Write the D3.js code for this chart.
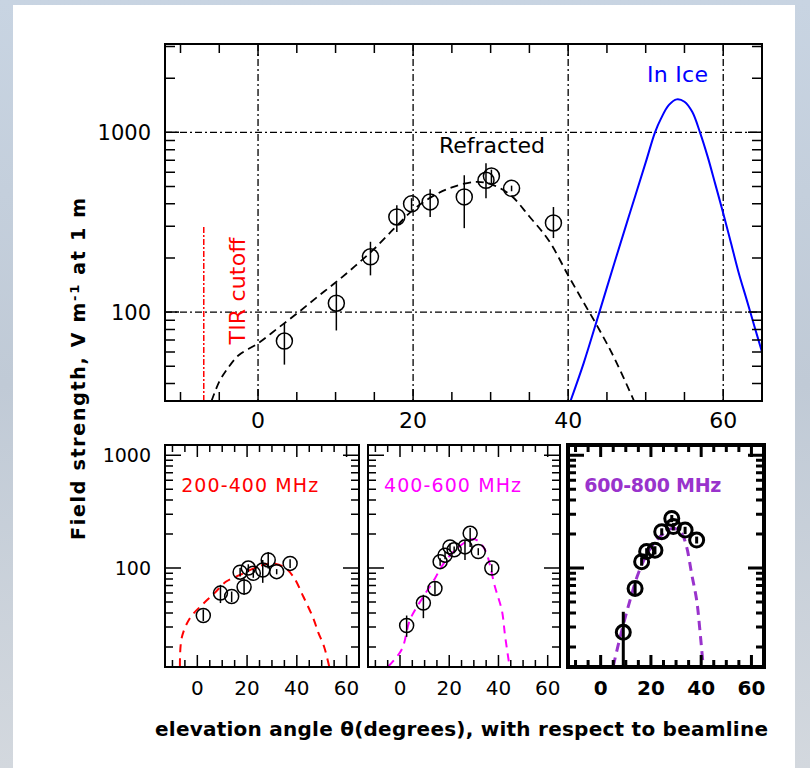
<!DOCTYPE html>
<html>
<head>
<meta charset="utf-8">
<script src="https://cdn.jsdelivr.net/npm/d3@7"></script>
<style>
  body { margin: 0; background: #fff; }
  svg { display: block; font-family: 'DejaVu Sans', sans-serif; }
</style>
</head>
<body>
<svg id="chart" width="810" height="768"></svg>
<script>
// main panel: [angle, field] pairs
const refractedCurve = [[-6, 32], [-5, 41], [-4, 48], [-2.5, 57.5], [0, 67], [2.5, 81], [5, 98], [7.5, 120],
  [10, 146], [12.5, 180], [15, 225], [17.5, 290], [20, 370], [22.5, 440], [25, 494], [28, 530], [30, 515],
  [32.5, 450], [35, 340], [37.5, 250], [40, 160], [42, 113], [44, 80], [46, 55], [48.5, 32]]
// [angle, field, low, high]
const refractedPoints = [[3.4, 69, 51, 87], [10.1, 112, 79, 145], [14.5, 203, 160, 246], [17.9, 338, 279, 393],
  [19.8, 400, 370, 430], [22.2, 410, 338, 482], [26.6, 437, 293, 577], [29.4, 541, 430, 672],
  [30.1, 571, 520, 620], [32.7, 488, 470, 505], [38.1, 313, 258, 384]]
const iceCurve = [[40.3, 32], [42, 52], [44, 99], [46, 190], [48, 360], [50, 680], [51.2, 1000], [52, 1200],
  [53, 1420], [54, 1525], [55, 1480], [56, 1300], [57, 1000], [58, 730], [59, 510], [60, 355], [61, 242],
  [62, 165], [63, 118], [64, 84], [65, 60]]
const tirAngle = -7
const tirRange = [32, 300]
const mainXLabels = [0, 20, 40, 60]
const mainYLabels = [100, 1000]

// frequency bands (bottom panels)
const bands = ['200-400 MHz', '400-600 MHz', '600-800 MHz']
const bandColors = ['#ff0000', '#ff00ff', '#9933cc']
const bandCurves = [
  [[-7, 13.5], [-6.3, 24], [-3, 36], [1.8, 47], [6.9, 60], [11.6, 76], [17.2, 87], [22.5, 99], [29.2, 110],
    [34.6, 103], [38.6, 84], [42.6, 56], [46.6, 36], [48.6, 27], [51, 20], [53, 13.5]],
  [[-4.7, 13.5], [0.7, 19], [4.1, 35], [9.5, 56], [14.2, 81], [16.9, 103], [21, 135], [25.7, 165], [29, 180],
    [31.2, 177], [34.6, 144], [38.6, 68], [41.4, 42], [42.7, 25], [44.5, 13.5]],
  [[5, 13.5], [8.4, 28], [11.7, 52], [15, 90], [19, 140], [23.6, 190], [28.9, 225], [32.2, 203], [34.2, 154],
    [36.2, 89], [38.2, 52], [39.5, 28], [40.8, 13.5]]
]
const bandPoints = [
  [[2.4, 38, 34, 43], [9.3, 60, 49, 71], [13.8, 56, 50, 62], [17.2, 92, 84, 100], [18.8, 68, 58, 81],
    [20.5, 100, 92, 108], [22.5, 90, 82, 98], [26.3, 96, 74, 118], [28.5, 118, 99, 139], [31.9, 93, 88, 98],
    [37.3, 110, 100, 120]],
  [[2.7, 31, 24.6, 38], [9.5, 49, 36, 58], [14.2, 66, 58, 76], [16.3, 114, 105, 122], [18.3, 130, 120, 140],
    [20.3, 154, 140, 165], [22, 145, 135, 155], [26.4, 154, 118, 177], [28.5, 203, 154, 226],
    [31.8, 140, 130, 150], [37.3, 100, 92, 108]],
  [[9.0, 27, 13.5, 41], [13.7, 66, 57, 76], [16.3, 114, 105, 124], [18.3, 140, 128, 150], [21.6, 144, 132, 156],
    [24.3, 210, 195, 225], [28.3, 275, 255, 295], [28.9, 233, 215, 250], [33.6, 217, 200, 232],
    [38.2, 177, 165, 190]]
]
const smallXLabels = [0, 20, 40, 60]
const smallYLabels = [100, 1000]

const svg = d3.select('#chart')
const defs = svg.append('defs')

// backdrop: greyish sky strip behind a white sheet
const grad = defs.append('linearGradient').attr('id', 'sky').attr('x1', 0).attr('y1', 0).attr('x2', 0).attr('y2', 1)
grad.append('stop').attr('offset', 0).attr('stop-color', '#c8d4e2')
grad.append('stop').attr('offset', 0.5).attr('stop-color', '#c0cad6')
grad.append('stop').attr('offset', 1).attr('stop-color', '#d3d8de')
svg.append('rect').attr('width', 810).attr('height', 768).attr('fill', 'url(#sky)')
svg.append('rect').attr('x', 13).attr('y', 5).attr('width', 782).attr('height', 763).attr('fill', '#fff')

function logTicks(lo, hi) {
  const out = []
  for (let d = 1; d <= 1000; d *= 10) {
    for (let m = 1; m < 10; m++) {
      const v = m * d
      if (v >= lo && v <= hi) out.push(v)
    }
  }
  return out
}

function drawTicks(g, x, y, opt) {
  const [x0, x1] = x.range()
  const [y1, y0] = y.range()
  const xt = d3.range(-10, 66, 5)
  const yt = logTicks(y.domain()[0], y.domain()[1])
  const isMajX = v => v % 20 === 0
  const isMajY = v => v === 100 || v === 1000
  const t = g.append('g').attr('stroke', '#000').attr('stroke-width', opt.width)
  t.selectAll('.xt').data(xt).enter().append('path')
    .attr('d', v => {
      const len = isMajX(v) ? opt.majX : opt.minX
      const px = x(v)
      return `M${px},${y0}v${len}M${px},${y1}v${-len}`
    })
  t.selectAll('.yt').data(yt).enter().append('path')
    .attr('d', v => {
      const len = isMajY(v) ? opt.majY : opt.minY
      const py = y(v)
      return `M${x0},${py}h${len}M${x1},${py}h${-len}`
    })
  g.append('rect')
    .attr('x', x0).attr('y', y0)
    .attr('width', x1 - x0).attr('height', y1 - y0)
    .attr('fill', 'none').attr('stroke', '#000').attr('stroke-width', opt.frame)
}

function drawPoints(g, x, y, pts, r, sw) {
  const p = g.append('g').attr('stroke', '#000').attr('fill', 'none').attr('stroke-width', sw)
  p.selectAll('line').data(pts).enter().append('line')
    .attr('x1', d => x(d[0])).attr('x2', d => x(d[0]))
    .attr('y1', d => y(d[2])).attr('y2', d => y(d[3]))
  p.selectAll('circle').data(pts).enter().append('circle')
    .attr('cx', d => x(d[0])).attr('cy', d => y(d[1])).attr('r', r)
}

// ---------- main panel ----------
const mainX = d3.scaleLinear().domain([-12, 65]).range([165, 762])
const mainY = d3.scaleLog().domain([32, 3100]).range([401, 44])
const main = svg.append('g')

defs.append('clipPath').attr('id', 'clip-main').append('rect')
  .attr('x', 165).attr('y', 44).attr('width', 597).attr('height', 357)

const grid = main.append('g').attr('stroke', '#000').attr('stroke-width', 1.3).attr('stroke-dasharray', '7,3,2,3')
grid.selectAll('.gx').data(mainXLabels).enter().append('line')
  .attr('x1', d => mainX(d)).attr('x2', d => mainX(d)).attr('y1', 44).attr('y2', 401)
grid.selectAll('.gy').data(mainYLabels).enter().append('line')
  .attr('y1', d => mainY(d)).attr('y2', d => mainY(d)).attr('x1', 165).attr('x2', 762)

main.append('line')
  .attr('x1', mainX(tirAngle)).attr('x2', mainX(tirAngle))
  .attr('y1', mainY(tirRange[0])).attr('y2', mainY(tirRange[1]))
  .attr('stroke', '#ff0000').attr('stroke-width', 1.5).attr('stroke-dasharray', '6,2,2,2')

const mainLine = d3.line().x(d => mainX(d[0])).y(d => mainY(d[1])).curve(d3.curveCatmullRom.alpha(0.5))
const curves = main.append('g').attr('clip-path', 'url(#clip-main)').attr('fill', 'none')
curves.append('path').datum(refractedCurve).attr('d', mainLine)
  .attr('stroke', '#000').attr('stroke-width', 1.8).attr('stroke-dasharray', '8,5')
curves.append('path').datum(iceCurve).attr('d', mainLine)
  .attr('stroke', '#0000ff').attr('stroke-width', 2)

drawPoints(main, mainX, mainY, refractedPoints, 8, 1.5)
drawTicks(main, mainX, mainY, { width: 1.5, frame: 2, minX: 9, majX: 12, minY: 10, majY: 14 })

main.selectAll('.xl').data(mainXLabels).enter().append('text')
  .attr('x', d => mainX(d)).attr('y', 428).attr('text-anchor', 'middle')
  .attr('font-size', 22).text(d => d)
main.selectAll('.yl').data(mainYLabels).enter().append('text')
  .attr('x', 151).attr('y', d => mainY(d) + 8).attr('text-anchor', 'end')
  .attr('font-size', 21).text(d => d)

main.append('text').attr('x', 439).attr('y', 153).attr('font-size', 22)
  .attr('textLength', 106).text('Refracted')
main.append('text').attr('x', 647).attr('y', 82).attr('font-size', 22).attr('fill', '#0000ff')
  .attr('textLength', 61).text('In Ice')
main.append('text').attr('transform', 'translate(245,291) rotate(-90)').attr('text-anchor', 'middle')
  .attr('font-size', 22).attr('fill', '#ff0000').attr('textLength', 107).text('TIR cutoff')

// ---------- band panels ----------
const panelRanges = [[165, 359], [368, 560], [568, 764]]
const smallY = d3.scaleLog().domain([13.3, 1230]).range([667, 445])

bands.forEach((band, i) => {
  const x = d3.scaleLinear().domain([-13, 65]).range(panelRanges[i])
  const bold = i === 2
  const g = svg.append('g')
  const clipId = 'clip-p' + i
  defs.append('clipPath').attr('id', clipId).append('rect')
    .attr('x', panelRanges[i][0]).attr('y', 445)
    .attr('width', panelRanges[i][1] - panelRanges[i][0]).attr('height', 222)
  const line = d3.line().x(d => x(d[0])).y(d => smallY(d[1])).curve(d3.curveCatmullRom.alpha(0.5))
  g.append('path').datum(bandCurves[i]).attr('d', line).attr('clip-path', `url(#${clipId})`)
    .attr('fill', 'none').attr('stroke', bandColors[i])
    .attr('stroke-width', bold ? 3 : 2).attr('stroke-dasharray', bold ? '9,6' : '8,6')
  drawPoints(g, x, smallY, bandPoints[i], 7, bold ? 3 : 1.5)
  drawTicks(g, x, smallY, {
    width: bold ? 3 : 1.5, frame: bold ? 4 : 2, minX: 7, majX: 12, minY: 8, majY: 16
  })
  g.selectAll('.xl').data(smallXLabels).enter().append('text')
    .attr('x', d => x(d)).attr('y', 695).attr('text-anchor', 'middle')
    .attr('font-size', 20).attr('font-weight', bold ? 'bold' : 'normal').text(d => d)
  g.append('text').attr('x', x(-6.5)).attr('y', 492)
    .attr('font-size', 19).attr('font-weight', bold ? 'bold' : 'normal')
    .attr('fill', bandColors[i]).attr('textLength', 137).text(band)
})

svg.selectAll('.syl').data(smallYLabels).enter().append('text')
  .attr('x', 151).attr('y', d => smallY(d) + 7).attr('text-anchor', 'end')
  .attr('font-size', 19).text(d => d)

// axis titles
svg.append('text').attr('transform', 'translate(85,369) rotate(-90)').attr('text-anchor', 'middle')
  .attr('font-size', 19).attr('font-weight', 'bold').attr('textLength', 342)
  .html('Field strength, V m<tspan dy="-6" font-size="13">-1</tspan><tspan dy="6"> at 1 m</tspan>')
svg.append('text').attr('x', 155).attr('y', 736)
  .attr('font-size', 20).attr('font-weight', 'bold').attr('textLength', 613)
  .text('elevation angle θ(degrees), with respect to beamline')
</script>
</body>
</html>
